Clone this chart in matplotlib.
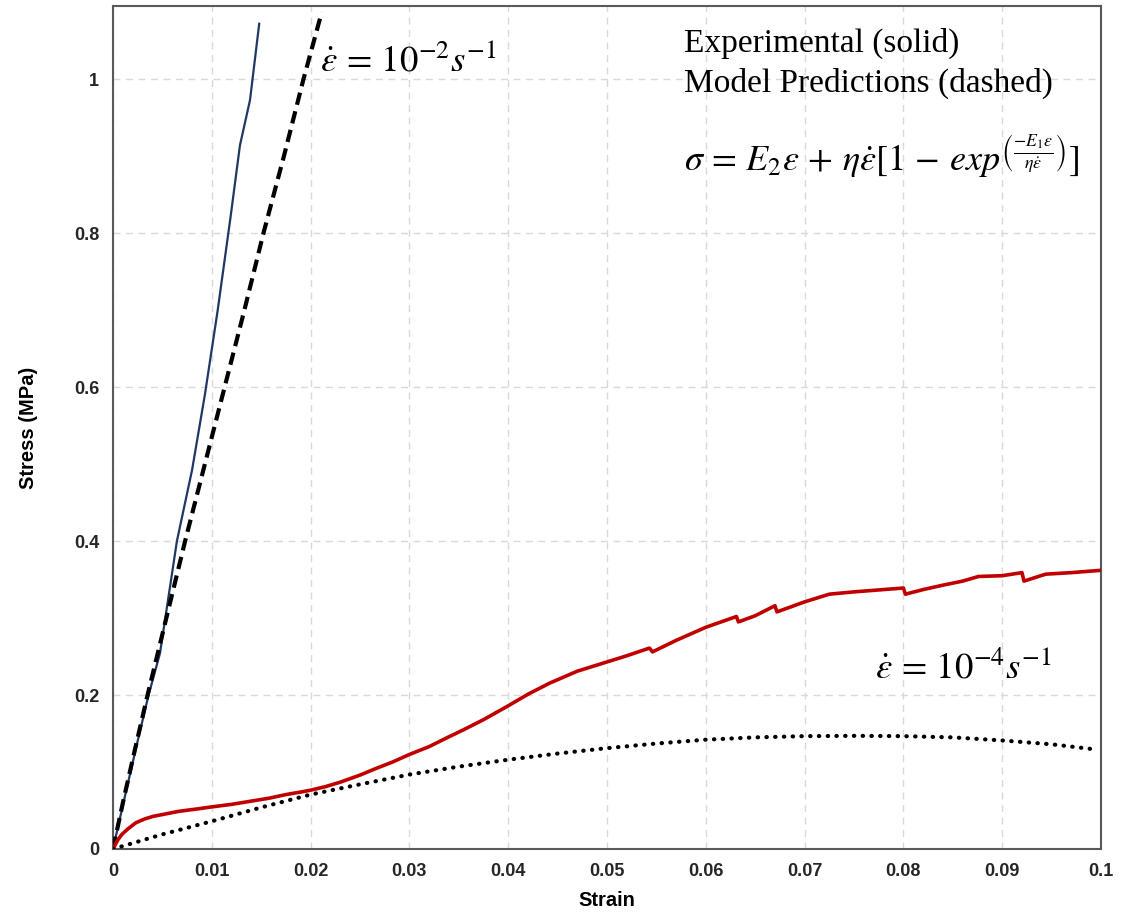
import numpy as np
import matplotlib
matplotlib.use("Agg")
import matplotlib.pyplot as plt

# fast rate (1e-2 /s), experiment
blue_strain = [0, 0.0012, 0.0024, 0.0036, 0.0042, 0.00476, 0.00647, 0.0080, 0.0093,
               0.0106, 0.0119, 0.0124, 0.01285, 0.01387, 0.0148]
blue_stress = [0, 0.068, 0.135, 0.200, 0.228, 0.2545, 0.400, 0.492, 0.590,
               0.700, 0.821, 0.870, 0.914, 0.973, 1.072]

# fast rate, model
dash_strain = [0, 0.001, 0.0022, 0.0035, 0.0054, 0.0073, 0.0093, 0.0113, 0.0133,
               0.01523, 0.0173, 0.01928, 0.02113]
dash_stress = [0, 0.060, 0.128, 0.200, 0.300, 0.400, 0.500, 0.600, 0.700,
               0.800, 0.900, 1.000, 1.087]

# slow rate (1e-4 /s), experiment
red_strain = [0, 0.0005, 0.0009, 0.0015, 0.0023, 0.0032, 0.0041, 0.0055, 0.0067,
              0.0085, 0.010, 0.012, 0.0139, 0.0158, 0.0175, 0.019, 0.020, 0.0215,
              0.023, 0.025, 0.0266, 0.0283, 0.030, 0.032, 0.0338, 0.0355, 0.0375,
              0.040, 0.042, 0.0442, 0.047, 0.050, 0.052, 0.0543, 0.0546, 0.057,
              0.060, 0.0631, 0.0633, 0.065, 0.067, 0.0672, 0.070, 0.0725, 0.075,
              0.078, 0.080, 0.0802, 0.082, 0.0841, 0.086, 0.0876, 0.090, 0.092,
              0.0922, 0.0944, 0.097, 0.100]
red_stress = [0, 0.012, 0.019, 0.026, 0.034, 0.039, 0.0425, 0.046, 0.049,
              0.052, 0.0547, 0.058, 0.062, 0.066, 0.0707, 0.074, 0.0764, 0.081,
              0.0868, 0.096, 0.1045, 0.113, 0.1228, 0.133, 0.1445, 0.155, 0.168,
              0.186, 0.201, 0.2155, 0.231, 0.243, 0.251, 0.261, 0.256, 0.271,
              0.288, 0.302, 0.295, 0.303, 0.316, 0.308, 0.321, 0.331, 0.334,
              0.337, 0.339, 0.331, 0.337, 0.343, 0.348, 0.354, 0.355, 0.359,
              0.348, 0.357, 0.359, 0.362]

# slow rate, model
dot_strain = [0, 0.005, 0.01, 0.015, 0.02, 0.025, 0.03, 0.035, 0.04, 0.045, 0.05,
              0.055, 0.06, 0.065, 0.07, 0.075, 0.08, 0.085, 0.09, 0.095, 0.099]
dot_stress = [0, 0.019, 0.036, 0.054, 0.0707, 0.084, 0.0967, 0.107, 0.116, 0.124, 0.131,
              0.137, 0.142, 0.145, 0.1466, 0.147, 0.1466, 0.145, 0.141, 0.136, 0.130]

x_ticks = [0, 0.01, 0.02, 0.03, 0.04, 0.05, 0.06, 0.07, 0.08, 0.09, 0.1]
x_labels = ["0", "0.01", "0.02", "0.03", "0.04", "0.05", "0.06", "0.07", "0.08", "0.09", "0.1"]
y_ticks = [0, 0.2, 0.4, 0.6, 0.8, 1.0]
y_labels = ["0", "0.2", "0.4", "0.6", "0.8", "1"]

plt.rcParams["mathtext.fontset"] = "stix"

fig = plt.figure(figsize=(11.22, 9.13), dpi=100)
ax = fig.add_axes([0.1007, 0.0701, 0.8806, 0.9233])

ax.plot(blue_strain, blue_stress, color="#1f3864", lw=1.6, zorder=3)
ax.plot(dash_strain, dash_stress, color="black", lw=3, dashes=(3, 1.6), zorder=3)
ax.plot(red_strain, red_stress, color="#c00000", lw=2.6, zorder=3)
ax.plot(dot_strain, dot_stress, color="black", lw=3, linestyle=(0, (0.1, 2.0)),
        dash_capstyle="round", zorder=3)

ax.set_xlim(0, 0.1)
ax.set_ylim(0, 1.095)
ax.set_xticks(x_ticks)
ax.set_xticklabels(x_labels)
ax.set_yticks(y_ticks)
ax.set_yticklabels(y_labels)
ax.tick_params(length=0, pad=10, labelsize=13)
for lab in ax.get_xticklabels() + ax.get_yticklabels():
    lab.set_fontweight("bold")
    lab.set_family("Liberation Sans")
    lab.set_color("#262626")

ax.grid(True, color="#d9d9d9", linestyle=(0, (5, 4)), lw=1)
ax.set_axisbelow(True)
for s in ax.spines.values():
    s.set_color("#595959")
    s.set_linewidth(1.5)

ax.set_xlabel("Strain", fontsize=14.5, fontweight="bold", family="Liberation Sans", labelpad=8)
ax.set_ylabel("Stress (MPa)", fontsize=14.5, fontweight="bold", family="Liberation Sans", labelpad=26)

ax.text(0.021, 1.025, r"$\dot{\varepsilon}\,=\,10^{-2}s^{-1}$", fontsize=26.5, va="center")
ax.text(0.0771, 0.236, r"$\dot{\varepsilon}\,=\,10^{-4}s^{-1}$", fontsize=26.5, va="center")
ax.text(0.0578, 1.047, "Experimental (solid)", fontsize=24, family="Liberation Serif", va="center")
ax.text(0.0578, 0.995, "Model Predictions (dashed)", fontsize=24, family="Liberation Serif", va="center")
ax.text(0.0578, 0.90,
        r"$\sigma\,=\,E_2\varepsilon\,+\,\eta\dot{\varepsilon}[1\,-\,exp^{\left(\frac{-E_1\varepsilon}{\eta\dot{\varepsilon}}\right)}]$",
        fontsize=26, va="center")

fig.savefig("out.png", dpi=100)
